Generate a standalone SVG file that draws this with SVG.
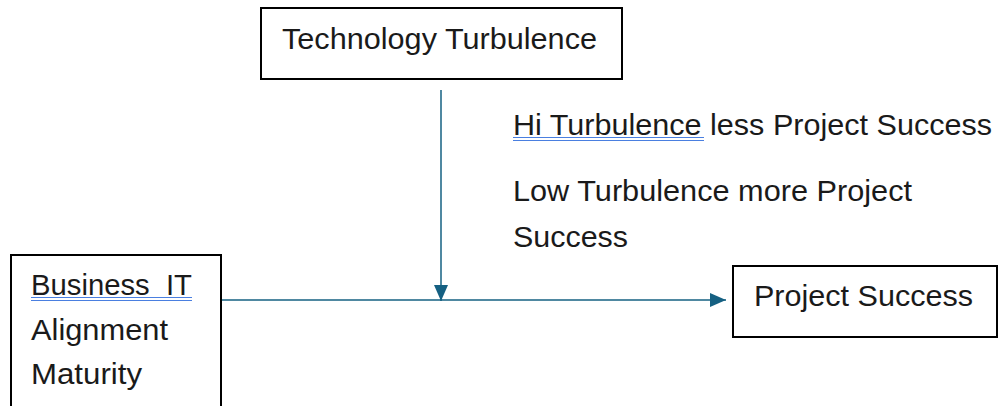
<svg xmlns="http://www.w3.org/2000/svg" width="999" height="406" viewBox="0 0 999 406">
  <style>
    .box { fill: #ffffff; stroke: #000000; stroke-width: 2; }
    .lbl { font-family: "Liberation Sans", Arial, sans-serif; font-size: 29px; fill: #1a1a1a; }
    .conn { stroke: #156082; stroke-width: 1.5; fill: none; }
    .squig { stroke: #4a7fe0; stroke-width: 1; }
  </style>
  <defs>
    <marker id="arrow" viewBox="0 0 16 14" markerWidth="16" markerHeight="14" refX="16" refY="7" orient="auto" markerUnits="userSpaceOnUse">
      <path d="M0,0 L16,7 L0,14 z" fill="#156082"/>
    </marker>
  </defs>
  <rect width="999" height="406" fill="#ffffff"/>

  <g id="connectors">
    <line class="conn" x1="441" y1="90" x2="441" y2="301" marker-end="url(#arrow)"/>
    <line class="conn" x1="222" y1="300" x2="726" y2="300" marker-end="url(#arrow)"/>
  </g>

  <g id="technology-turbulence">
    <rect class="box" x="261" y="8" width="361" height="71"/>
    <text class="lbl" x="282" y="49" textLength="315" lengthAdjust="spacingAndGlyphs">Technology Turbulence</text>
  </g>

  <g id="business-it">
    <rect class="box" x="11" y="255" width="210" height="170"/>
    <text class="lbl" x="31" y="295" textLength="161" lengthAdjust="spacingAndGlyphs" style="white-space:pre">Business  IT</text>
    <line class="squig" x1="31" y1="297.5" x2="192" y2="297.5"/>
    <line class="squig" x1="31" y1="300.5" x2="192" y2="300.5"/>
    <text class="lbl" x="31" y="340" textLength="137" lengthAdjust="spacingAndGlyphs">Alignment</text>
    <text class="lbl" x="31" y="384" textLength="111" lengthAdjust="spacingAndGlyphs">Maturity</text>
  </g>

  <g id="project-success">
    <rect class="box" x="733" y="266" width="264" height="71"/>
    <text class="lbl" x="754" y="306" textLength="219" lengthAdjust="spacingAndGlyphs">Project Success</text>
  </g>

  <g id="annotation">
    <text class="lbl" x="513" y="135" textLength="479" lengthAdjust="spacingAndGlyphs">Hi Turbulence less Project Success</text>
    <line class="squig" x1="513" y1="137.5" x2="704" y2="137.5"/>
    <line class="squig" x1="513" y1="140.5" x2="704" y2="140.5"/>
    <text class="lbl" x="513" y="201" textLength="399" lengthAdjust="spacingAndGlyphs">Low Turbulence more Project</text>
    <text class="lbl" x="513" y="247" textLength="115" lengthAdjust="spacingAndGlyphs">Success</text>
  </g>
</svg>
